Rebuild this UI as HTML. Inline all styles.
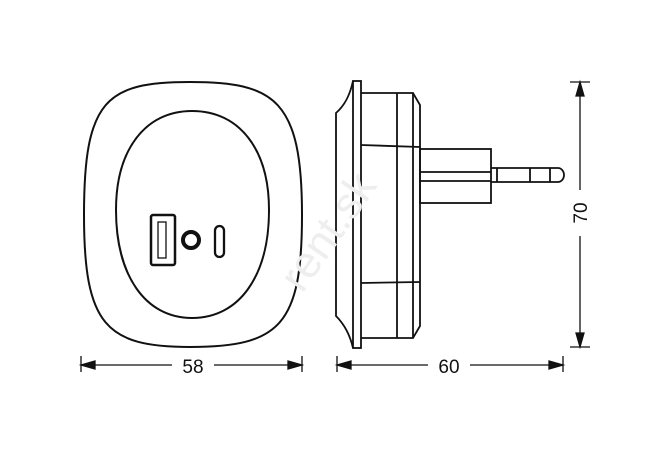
<!DOCTYPE html>
<html><head><style>html,body{margin:0;background:#fff}svg{display:block}</style></head><body>
<svg width="670" height="455" viewBox="0 0 670 455" xmlns="http://www.w3.org/2000/svg">
<g fill="none" stroke="#111" stroke-width="2">
<path d="M190,82 C275,82 302,100 302,215 C302,325 280,347 190,347 C106,347 84,325 84,215 C84,100 106,82 190,82 Z"/>
<path d="M192,111 C240,111 269,150 269,210 C269,275 240,318 192,318 C145,318 116,275 116,210 C116,150 145,111 192,111 Z"/>
<rect x="151" y="215" width="24" height="50" rx="2" stroke-width="2.5"/>
<rect x="158" y="222" width="8" height="36" stroke-width="1.3"/>
<circle cx="191" cy="240" r="8" stroke-width="4"/>
<rect x="215" y="226" width="9" height="31" rx="4.5" stroke-width="2.3"/>
</g>
<g fill="none" stroke="#111" stroke-width="1.8">
<path d="M353,81 C350,95 345,105 336,113 L336,316 C345,325 350,335 353,348"/>
<rect x="353" y="81" width="8" height="267"/>
<path d="M361,93 L413,93 L420,105 L420,326 L413,338 L361,338"/>
<line x1="397" y1="93" x2="397" y2="338"/>
<line x1="413" y1="93" x2="413" y2="338"/>
<line x1="361" y1="145" x2="420" y2="147"/>
<line x1="361" y1="283" x2="420" y2="282"/>
<rect x="420" y="149" width="71" height="54"/>
<line x1="420" y1="172" x2="491" y2="172"/>
<line x1="420" y1="181" x2="491" y2="181"/>
<path d="M491,168 L558,168 A6,7 0 0 1 558,182 L491,182"/>
<line x1="497" y1="168" x2="497" y2="182"/>
<line x1="530" y1="168" x2="530" y2="182"/>
<line x1="550" y1="168" x2="550" y2="182"/>
</g>
<g stroke="#111" stroke-width="1.3" fill="#111">
<line x1="81" y1="356" x2="81" y2="372"/><line x1="302" y1="356" x2="302" y2="372"/>
<line x1="81" y1="365" x2="172" y2="365"/><line x1="214" y1="365" x2="302" y2="365"/>
<path d="M81,365 L95,361 L95,369Z"/><path d="M302,365 L288,361 L288,369Z"/>
<line x1="337" y1="356" x2="337" y2="372"/><line x1="563" y1="356" x2="563" y2="372"/>
<line x1="337" y1="365" x2="428" y2="365"/><line x1="470" y1="365" x2="563" y2="365"/>
<path d="M337,365 L351,361 L351,369Z"/><path d="M563,365 L549,361 L549,369Z"/>
<line x1="570" y1="82" x2="590" y2="82"/><line x1="570" y1="347" x2="590" y2="347"/>
<line x1="580" y1="82" x2="580" y2="190"/><line x1="580" y1="236" x2="580" y2="347"/>
<path d="M580,82 L576,96 L584,96Z"/><path d="M580,347 L576,333 L584,333Z"/>
</g>
<g font-family="Liberation Sans, sans-serif" font-size="19" fill="#111" stroke="none" text-anchor="middle">
<text x="193" y="373">58</text>
<text x="449" y="373">60</text>
<text transform="translate(587,213) rotate(-90)">70</text>
</g>
<text transform="translate(340,240) rotate(-55)" font-family="Liberation Sans, sans-serif" font-size="44" fill="#eee" text-anchor="middle">rent.sk</text>
</svg>
</body></html>
